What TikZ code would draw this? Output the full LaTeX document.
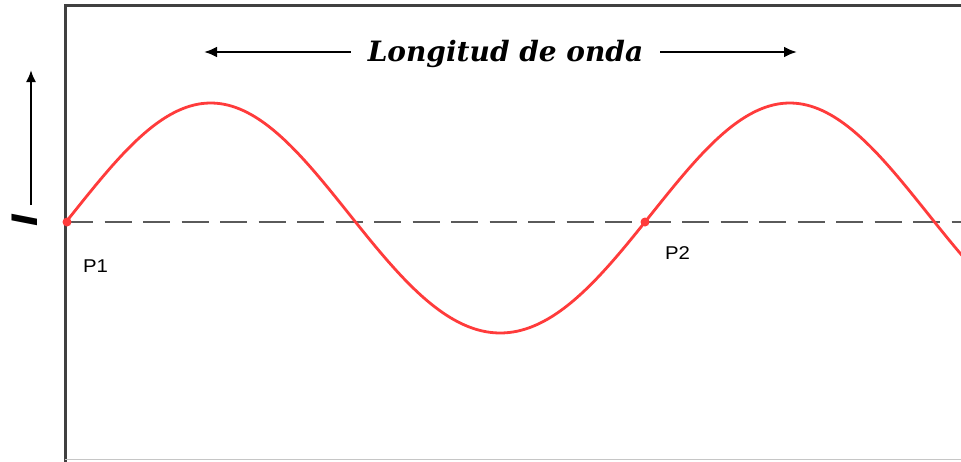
\documentclass[tikz,border=0pt]{standalone}
\usepackage{fontspec}
\newfontfamily\arialfont{Liberation Sans}
\newfontfamily\titlefont{DejaVu Serif}
\newfontfamily\ifont{DejaVu Sans}
\usetikzlibrary{arrows.meta}
\definecolor{wavered}{HTML}{FF3B3B}
\definecolor{framegray}{HTML}{404040}
\definecolor{dashgray}{HTML}{5A5A5A}
\tikzset{
  framebox/.style={draw=framegray, line width=3pt},
  axisline/.style={draw=dashgray, line width=2.4pt, dash pattern=on 27pt off 11.5pt},
  wave/.style={draw=wavered, line width=2.8pt},
  dot/.style={circle, fill=wavered, inner sep=0pt, minimum size=9pt},
  plabel/.style={font=\arialfont\fontsize{18.5}{18.5}\selectfont, text=black, inner sep=0pt, xscale=1.1},
  arr/.style={draw=black, line width=2.6pt, -{Latex[length=13pt,width=11pt]}},
  iarr/.style={draw=black, line width=2pt, -{Latex[length=12pt,width=10pt]}},
  title/.style={font=\titlefont\bfseries\itshape\fontsize{28}{28}\selectfont, inner xsep=17pt, inner ysep=0pt},
  ilabel/.style={font=\ifont\bfseries\itshape\fontsize{35}{35}\selectfont, rotate=90, inner sep=0pt}
}
\begin{document}
\begin{tikzpicture}[x=1pt,y=-1pt]
\useasboundingbox (0,0) rectangle (961,461);
\fill[white] (0,0) rectangle (961,461);
\begin{scope}
\clip (0,0) rectangle (961,461);
\draw[framebox] (965,5) -- (65,5) -- (65,465);
\draw[gray!45, line width=1.5pt] (65,459.5) -- (965,459.5);
\draw[axisline] (66,222) -- (965,222);
\draw[wave] plot[domain=66:965, samples=240, smooth] (\x, {222-115*sin(((\x-66)/579)*360)-4*sin(((\x-66)/579)*360)*sin(((\x-66)/579)*360)});
\end{scope}
\node[dot] (p1) at (67,222) {};
\node[dot] (p2) at (645,222) {};
\node[plabel] (p1l) at (95.5,266) {P1};
\node[plabel] (p2l) at (677.5,253) {P2};
\coordinate (ibot) at (31,205);
\coordinate (itop) at (31,70);
\draw[iarr] (ibot) -- (itop);
\node[ilabel] (ilab) at (25,220) {I};
\node[title, anchor=base] (lab) at (505.5,61) {Longitud de onda};
\coordinate (la) at (204,52);
\coordinate (ra) at (797,52);
\draw[arr] (lab.west |- la) -- (la);
\draw[arr] (lab.east |- ra) -- (ra);
\end{tikzpicture}
\end{document}
